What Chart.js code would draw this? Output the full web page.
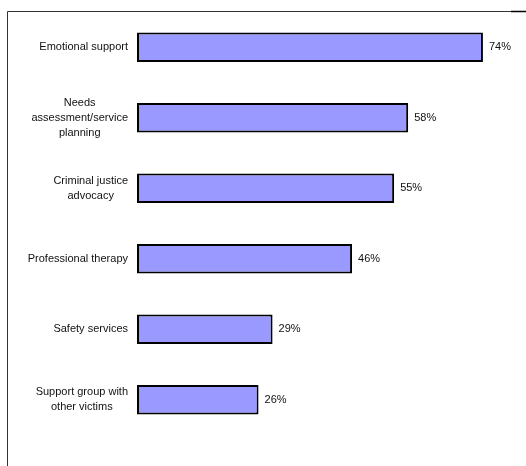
<!DOCTYPE html>
<html>
<head>
<meta charset="utf-8">
<script src="https://cdn.jsdelivr.net/npm/chart.js@4"></script>
<style>
html,body{margin:0;padding:0;background:#fff;}
#wrap{width:526px;height:466px;position:relative;}
</style>
</head>
<body>
<div id="wrap"><canvas id="c" width="526" height="466"></canvas></div>
<script>
const categories = [
  ["Emotional support"],
  ["Needs", "assessment/service", "planning"],
  ["Criminal justice", "advocacy"],
  ["Professional therapy"],
  ["Safety services"],
  ["Support group with", "other victims"]
];
const values = [74, 58, 55, 46, 29, 26];
const valueLabels = ["74%", "58%", "55%", "46%", "29%", "26%"];
const xMax = 80;

const FONT = "11px 'Liberation Sans', Arial, sans-serif";

const framePlugin = {
  id: 'frame',
  afterDraw(chart) {
    const ctx = chart.ctx;
    const ca = chart.chartArea;
    ctx.save();
    ctx.lineWidth = 1;
    ctx.strokeStyle = '#333';
    ctx.beginPath();
    ctx.moveTo(7.5, 466);
    ctx.lineTo(7.5, 11.5);
    ctx.lineTo(ca.right, 11.5);
    ctx.stroke();
    ctx.strokeStyle = '#000';
    ctx.lineWidth = 1.5;
    ctx.beginPath();
    ctx.moveTo(ca.right, 11.5);
    ctx.lineTo(526, 11.5);
    ctx.stroke();
    ctx.restore();
  }
};

const labelsPlugin = {
  id: 'labelsPlugin',
  afterDatasetsDraw(chart) {
    const ctx = chart.ctx;
    const yScale = chart.scales.y;
    const meta = chart.getDatasetMeta(0);
    ctx.save();
    ctx.font = FONT;
    ctx.fillStyle = '#111';
    ctx.textBaseline = 'middle';
    const lineH = 15;
    categories.forEach((lines, i) => {
      const yc = yScale.getPixelForValue(i);
      let maxW = 0;
      lines.forEach(l => { maxW = Math.max(maxW, ctx.measureText(l).width); });
      const right = chart.chartArea.left - 9;
      const cx = right - maxW / 2;
      ctx.textAlign = 'center';
      const y0 = yc - (lines.length - 1) * lineH / 2;
      lines.forEach((l, k) => ctx.fillText(l, cx, y0 + k * lineH));
      const bar = meta.data[i];
      ctx.textAlign = 'left';
      ctx.fillText(valueLabels[i], bar.x + 6, bar.y);
    });
    ctx.restore();
  }
};

new Chart(document.getElementById('c'), {
  type: 'bar',
  data: {
    labels: categories,
    datasets: [{
      data: values,
      backgroundColor: '#9999FF',
      borderColor: '#000',
      borderWidth: 2,
      borderSkipped: false,
      categoryPercentage: 1,
      barPercentage: 0.42
    }]
  },
  options: {
    indexAxis: 'y',
    responsive: false,
    animation: false,
    events: [],
    layout: { padding: { left: 137, top: 12, right: 15, bottom: 31 } },
    plugins: { legend: { display: false }, tooltip: { enabled: false } },
    scales: {
      x: { min: 0, max: xMax, display: false },
      y: { display: false }
    }
  },
  plugins: [framePlugin, labelsPlugin]
});
</script>
</body>
</html>
